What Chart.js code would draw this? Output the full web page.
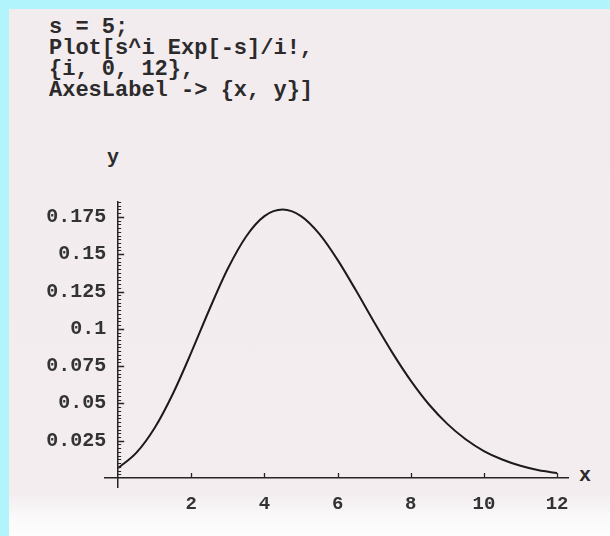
<!DOCTYPE html>
<html>
<head>
<meta charset="utf-8">
<script src="https://cdn.jsdelivr.net/npm/chart.js@4/dist/chart.umd.min.js"></script>
<style>
  html, body { margin: 0; padding: 0; }
  body { width: 610px; height: 536px; background: #b2f4fc; position: relative; overflow: hidden; }
  #paper { position: absolute; left: 9px; top: 9px; width: 601px; height: 527px;
    background: linear-gradient(to bottom, #f2ecef 0px, #f3edf0 485px, #fbfafb 510px, #fdfdfd 527px); }
  #code { position: absolute; left: 49px; top: 17px; margin: 0;
    font: bold 22px/21px "Liberation Mono", monospace; color: #2c2a2b; white-space: pre; }
  .axlab { position: absolute; font: bold 20px "Liberation Mono", monospace; color: #2c2a2b; line-height: 20px; }
  canvas { position: absolute; left: 0; top: 0; }
</style>
</head>
<body>
<div id="paper"></div>
<pre id="code">s = 5;
Plot[s^i Exp[-s]/i!,
{i, 0, 12},
AxesLabel -&gt; {x, y}]</pre>
<div class="axlab" style="left:107px; top:148px;">y</div>
<div class="axlab" style="left:579px; top:466px;">x</div>
<canvas id="c" width="610" height="536"></canvas>
<script>
// Data
const iValues = [0, 0.5, 1, 1.5, 2, 2.5, 3, 3.5, 4, 4.5, 5, 5.5, 6, 6.5, 7, 7.5, 8, 8.5, 9, 9.5, 10, 10.5, 11, 11.5, 12];
const yValues = [0.0067, 0.0170, 0.0337, 0.0567, 0.0842, 0.1133, 0.1404, 0.1619, 0.1755, 0.1799, 0.1755, 0.1636, 0.1462, 0.1258, 0.1044, 0.0839, 0.0653, 0.0493, 0.0363, 0.0260, 0.0181, 0.0124, 0.0082, 0.0052, 0.0034];
const xTickValues = [2, 4, 6, 8, 10, 12];
const xTickLabels = ['2', '4', '6', '8', '10', '12'];
const yTickValues = [0.025, 0.05, 0.075, 0.1, 0.125, 0.15, 0.175];
const yTickLabels = ['0.025', '0.05', '0.075', '0.1', '0.125', '0.15', '0.175'];
const yMinorStep = 0.0025;

const ink = '#262425';

const inwardTicks = {
  id: 'inwardTicks',
  afterDraw(chart) {
    const ctx = chart.ctx;
    const xs = chart.scales.x, ys = chart.scales.y;
    const x0 = xs.getPixelForValue(0), y0 = ys.getPixelForValue(0);
    ctx.save();
    ctx.strokeStyle = ink;
    ctx.lineWidth = 1.3;
    ctx.beginPath();
    xTickValues.forEach(v => {
      const px = Math.round(xs.getPixelForValue(v)) + 0.5;
      ctx.moveTo(px, y0); ctx.lineTo(px, y0 - 5);
    });
    yTickValues.forEach(v => {
      const py = Math.round(ys.getPixelForValue(v)) + 0.5;
      ctx.moveTo(x0, py); ctx.lineTo(x0 + 6, py);
    });
    ctx.stroke();
    ctx.lineWidth = 1;
    ctx.beginPath();
    for (let k = 1; k * yMinorStep <= ys.max; k++) {
      const v = k * yMinorStep;
      const py = Math.round(ys.getPixelForValue(v)) + 0.5;
      ctx.moveTo(x0 - 1, py); ctx.lineTo(x0 + 3, py);
    }
    ctx.stroke();
    ctx.restore();
  }
};

new Chart(document.getElementById('c'), {
  type: 'scatter',
  data: {
    datasets: [{
      data: iValues.map((x, k) => ({ x: x, y: yValues[k] })),
      showLine: true,
      borderColor: '#1c1a1b',
      borderWidth: 2,
      pointRadius: 0,
      cubicInterpolationMode: 'monotone',
      clip: false
    }]
  },
  options: {
    responsive: false,
    animation: false,
    devicePixelRatio: 1,
    layout: { padding: { left: 105, right: 42, top: 202, bottom: 49 } },
    plugins: { legend: { display: false }, tooltip: { enabled: false } },
    scales: {
      x: {
        type: 'linear',
        min: -0.36, max: 12.3,
        position: { y: 0 },
        grid: { display: false, drawTicks: false },
        border: { display: true, color: ink, width: 1.5 },
        afterBuildTicks: s => { s.ticks = xTickValues.map(v => ({ value: v })); },
        ticks: {
          padding: 15,
          color: '#333',
          font: { family: '"Liberation Mono", monospace', size: 19, weight: 'bold' },
          autoSkip: false,
          maxRotation: 0,
          callback: (v, i) => xTickLabels[i]
        }
      },
      y: {
        type: 'linear',
        min: -0.006, max: 0.185,
        position: { x: 0 },
        grid: { display: false, drawTicks: false },
        border: { display: true, color: ink, width: 1.5 },
        afterBuildTicks: s => { s.ticks = yTickValues.map(v => ({ value: v })); },
        ticks: {
          color: '#333',
          font: { family: '"Liberation Mono", monospace', size: 20, weight: 'bold' },
          autoSkip: false,
          callback: (v, i) => yTickLabels[i] + ' '
        }
      }
    }
  },
  plugins: [inwardTicks]
});
</script>
</body>
</html>
